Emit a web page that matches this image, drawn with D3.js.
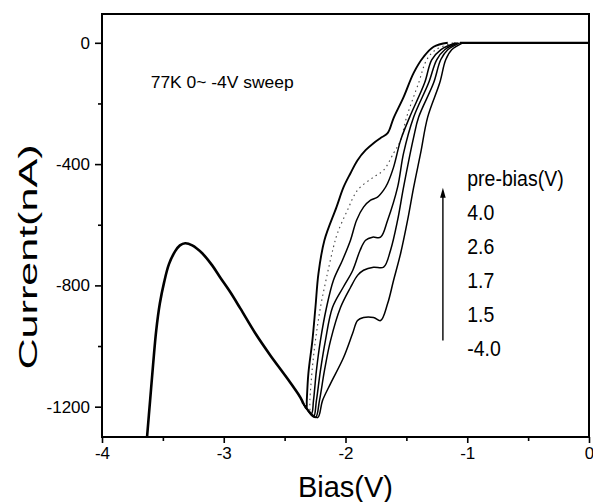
<!DOCTYPE html>
<html>
<head>
<meta charset="utf-8">
<script src="https://cdn.jsdelivr.net/npm/d3@7/dist/d3.min.js"></script>
<style>
  body { margin: 0; background: #fff; }
  svg { display: block; font-family: Arial, "Liberation Sans", sans-serif; }
</style>
</head>
<body>
<svg id="chart"></svg>
<script>
// Bias (V), Current (nA)
// common part of the 0 ~ -4V sweep (from -4V end back to the minimum)
const sharedSweep = [
  [-3.63, -1300], [-3.605, -1180], [-3.58, -1060], [-3.555, -950], [-3.525, -860],
  [-3.49, -790], [-3.45, -730], [-3.40, -688], [-3.36, -668], [-3.317, -661],
  [-3.259, -668], [-3.177, -694], [-3.095, -734], [-3.029, -774], [-2.947, -822],
  [-2.864, -876], [-2.741, -958], [-2.617, -1031], [-2.494, -1098], [-2.37, -1170],
  [-2.346, -1190]
];

// rising branches, one per pre-bias run (left to right)
const riseA = [
  [-2.346, -1190], [-2.321, -1207], [-2.318, -1180], [-2.305, -1091], [-2.272, -982],
  [-2.247, -873], [-2.222, -760], [-2.173, -651], [-2.074, -542], [-2.016, -476],
  [-1.959, -430], [-1.901, -387], [-1.835, -354], [-1.77, -331], [-1.712, -314],
  [-1.654, -298], [-1.605, -248], [-1.523, -179], [-1.44, -99], [-1.358, -46],
  [-1.276, -13], [-1.16, 0]
];
const riseB = [
  [-2.346, -1190], [-2.296, -1213], [-2.293, -1180], [-2.272, -1071], [-2.247, -982],
  [-2.206, -873], [-2.148, -760], [-2.099, -674], [-2.066, -628], [-1.984, -552],
  [-1.901, -486], [-1.77, -443], [-1.687, -420], [-1.605, -364], [-1.547, -321],
  [-1.498, -245], [-1.399, -132], [-1.333, -56], [-1.259, -23], [-1.119, 0]
];
const riseC = [
  [-2.346, -1190], [-2.28, -1223], [-2.263, -1180], [-2.239, -1081], [-2.206, -982],
  [-2.156, -873], [-2.099, -783], [-2.025, -717], [-1.959, -651], [-1.909, -585],
  [-1.852, -542], [-1.794, -519], [-1.737, -509], [-1.687, -486], [-1.654, -463],
  [-1.605, -410], [-1.547, -321], [-1.473, -245], [-1.35, -132], [-1.292, -56],
  [-1.218, -23], [-1.095, 0]
];
const riseD = [
  [-2.346, -1190], [-2.263, -1233], [-2.239, -1180], [-2.206, -1081], [-2.165, -982],
  [-2.107, -873], [-2.02, -807], [-1.94, -750], [-1.88, -684], [-1.835, -651],
  [-1.778, -641], [-1.712, -641], [-1.654, -585], [-1.572, -476], [-1.523, -364],
  [-1.44, -245], [-1.317, -132], [-1.251, -56], [-1.185, -23], [-1.078, 0]
];
const riseE = [
  [-2.346, -1190], [-2.247, -1236], [-2.214, -1180], [-2.173, -1081], [-2.123, -982],
  [-2.041, -873], [-1.959, -807], [-1.901, -767], [-1.852, -750], [-1.77, -740],
  [-1.687, -740], [-1.63, -684], [-1.572, -585], [-1.523, -476], [-1.44, -311],
  [-1.399, -245], [-1.276, -132], [-1.218, -56], [-1.16, -23], [-1.062, 0]
];
const riseF = [
  [-2.346, -1190], [-2.23, -1236], [-2.189, -1180], [-2.123, -1124], [-2.016, -1038],
  [-1.942, -959], [-1.901, -916], [-1.852, -906], [-1.77, -906], [-1.712, -916],
  [-1.654, -860], [-1.605, -783], [-1.547, -694], [-1.49, -585], [-1.44, -476],
  [-1.383, -364], [-1.325, -245], [-1.226, -132], [-1.177, -56], [-1.128, -23],
  [-1.037, 0]
];
const zeroTail = [[-1.06, 0], [0, 0]];

const xTicks = [-4, -3, -2, -1, 0];
const xMinor = [-3.5, -2.5, -1.5, -0.5];
const yTicks = [0, -400, -800, -1200];
const yMinor = [-200, -600, -1000];
const legendTitle = "pre-bias(V)";
const legendLabels = ["4.0", "2.6", "1.7", "1.5", "-4.0"];
const noteText = "77K 0~ -4V sweep";

const width = 593, height = 502;
const margin = { top: 14, right: 4, bottom: 65, left: 102 };

const svg = d3.select("#chart")
  .attr("width", width)
  .attr("height", height);

const x = d3.scaleLinear()
  .domain([-4, 0])
  .range([margin.left, width - margin.right]);

const y = d3.scaleLinear()
  .domain([-1300, 95])
  .range([height - margin.bottom, margin.top]);

// axes
svg.append("g")
  .attr("transform", `translate(0,${height - margin.bottom})`)
  .call(d3.axisBottom(x).tickValues(xTicks).tickSize(6).tickPadding(4)
    .tickFormat(d => String(d)));
svg.append("g")
  .attr("transform", `translate(0,${height - margin.bottom})`)
  .call(d3.axisBottom(x).tickValues(xMinor).tickSize(4).tickFormat(""));

svg.append("g")
  .attr("transform", `translate(${margin.left},0)`)
  .call(d3.axisLeft(y).tickValues(yTicks).tickSize(7).tickPadding(5)
    .tickFormat(d => String(d)));
svg.append("g")
  .attr("transform", `translate(${margin.left},0)`)
  .call(d3.axisLeft(y).tickValues(yMinor).tickSize(4).tickFormat(""));

svg.selectAll(".domain").remove();
svg.selectAll(".tick line").attr("stroke", "#000").attr("stroke-width", 1.6);
svg.selectAll(".tick text")
  .attr("fill", "#000")
  .style("font-size", "17px");

// frame
svg.append("rect")
  .attr("x", x(-4))
  .attr("y", y(95))
  .attr("width", x(0) - x(-4))
  .attr("height", y(-1300) - y(95))
  .attr("fill", "none")
  .attr("stroke", "#000")
  .attr("stroke-width", 2);

const line = d3.line()
  .x(d => x(d[0]))
  .y(d => y(d[1]))
  .curve(d3.curveCatmullRom.alpha(0.5));

const plot = svg.append("g");

plot.append("path")
  .datum(sharedSweep)
  .attr("fill", "none")
  .attr("stroke", "#000")
  .attr("stroke-width", 2.6)
  .attr("d", line);

const branches = [riseA, riseB, riseC, riseD, riseE, riseF];
branches.forEach((b, i) => {
  const p = plot.append("path")
    .datum(b)
    .attr("fill", "none")
    .attr("stroke", i === 1 ? "#444" : "#000")
    .attr("stroke-width", i === 1 ? 1.1 : (i === 0 ? 1.9 : 1.5))
    .attr("d", line);
  if (i === 1) p.attr("stroke-dasharray", "1.5,3.5");
});

plot.append("path")
  .datum(zeroTail)
  .attr("fill", "none")
  .attr("stroke", "#000")
  .attr("stroke-width", 2.2)
  .attr("d", line);

// annotation
svg.append("text")
  .attr("x", x(-3.6))
  .attr("y", y(-150))
  .attr("textLength", 143)
  .attr("lengthAdjust", "spacingAndGlyphs")
  .style("font-size", "16px")
  .text(noteText);

// legend: arrow + labels
const arrowX = x(-1.2), arrowTop = y(-478), arrowBottom = y(-982);
svg.append("line")
  .attr("x1", arrowX).attr("x2", arrowX)
  .attr("y1", arrowBottom).attr("y2", arrowTop + 6)
  .attr("stroke", "#000")
  .attr("stroke-width", 1.4);
svg.append("path")
  .attr("d", `M${arrowX - 2.8},${arrowTop + 10} L${arrowX},${arrowTop} L${arrowX + 2.8},${arrowTop + 10} Z`)
  .attr("fill", "#000");

const legendX = x(-1.0);
const legendTop = 186;
const legendStep = 34;

svg.append("text")
  .attr("transform", `translate(${legendX},${legendTop}) scale(1,1.1)`)
  .style("font-size", "19.5px")
  .text(legendTitle);

svg.selectAll(".legend-label")
  .data(legendLabels)
  .enter()
  .append("text")
  .attr("class", "legend-label")
  .attr("transform", (d, i) => `translate(${legendX},${legendTop + (i + 1) * legendStep}) scale(1,1.1)`)
  .style("font-size", "19.5px")
  .text(d => d);

// axis titles
svg.append("text")
  .attr("x", (x(-4) + x(0)) / 2)
  .attr("y", height - 5)
  .attr("text-anchor", "middle")
  .style("font-size", "29px")
  .text("Bias(V)");

svg.append("text")
  .attr("transform", `translate(37,257) rotate(-90)`)
  .attr("text-anchor", "middle")
  .attr("textLength", 225)
  .attr("lengthAdjust", "spacingAndGlyphs")
  .style("font-size", "26px")
  .text("Current(nA)");
</script>
</body>
</html>
